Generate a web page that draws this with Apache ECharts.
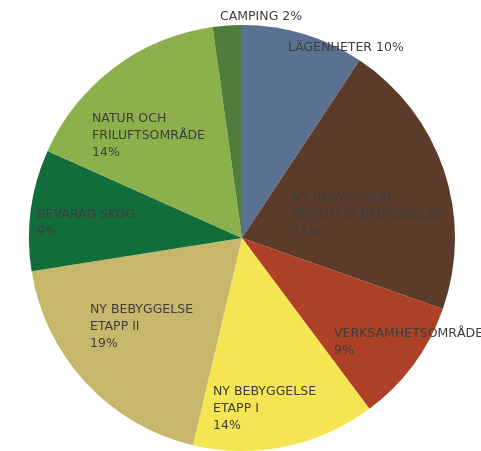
<!DOCTYPE html>
<html>
<head>
<meta charset="utf-8">
<script src="https://cdn.jsdelivr.net/npm/echarts@6/dist/echarts.min.js"></script>
<style>html,body{margin:0;padding:0;background:#fff}#c{width:481px;height:451px}</style>
</head>
<body>
<div id="c"></div>
<script>
// Slices clockwise from 12 o'clock
const categories = ["LÄGENHETER", "BEFINTLIG BEBYGGELSE", "VERKSAMHETSOMRÅDE", "NY BEBYGGELSE ETAPP I", "NY BEBYGGELSE ETAPP II", "BEVARAD SKOG", "NATUR OCH FRILUFTSOMRÅDE", "CAMPING"];
const values = [9.3, 21.1, 9.4, 13.9, 18.8, 9.2, 16.1, 2.2];
const labelTexts = [
  "LÄGENHETER 10%",
  "NY BEBYGGELSE\nBEFINTLIG BEBYGGELSE\n21%",
  "VERKSAMHETSOMRÅDE\n9%",
  "NY BEBYGGELSE\nETAPP I\n14%",
  "NY BEBYGGELSE\nETAPP II\n19%",
  "BEVARAD SKOG\n9%",
  "NATUR OCH\nFRILUFTSOMRÅDE\n14%",
  "CAMPING 2%"
];
const colors = ["#5b7191", "#5c3b2b", "#ad4128", "#f6e552", "#c6b76b", "#116d39", "#8bb04c", "#4f7d3e"];
// label anchor (top-left) positions, layout only
const labelPos = [[288, 39], [292, 189], [334, 325], [213, 383], [90, 301], [37, 206], [92, 110], [220, 8]];

const chart = echarts.init(document.getElementById('c'));
chart.setOption({
  backgroundColor: '#fff',
  animation: false,
  series: [{
    type: 'pie',
    center: [242, 238],
    radius: 213,
    startAngle: 90,
    clockwise: true,
    label: {
      show: true,
      position: 'inside',
      color: '#3d3d3d',
      fontFamily: 'DejaVu Sans',
      fontSize: 12.5,
      lineHeight: 17,
      align: 'left',
      formatter: p => labelTexts[p.dataIndex]
    },
    labelLine: { show: false },
    labelLayout: p => ({
      x: labelPos[p.dataIndex][0],
      y: labelPos[p.dataIndex][1],
      align: 'left',
      verticalAlign: 'top'
    }),
    emphasis: { disabled: true },
    data: categories.map((n, i) => ({ name: n, value: values[i], itemStyle: { color: colors[i] } }))
  }]
});
</script>
</body>
</html>
